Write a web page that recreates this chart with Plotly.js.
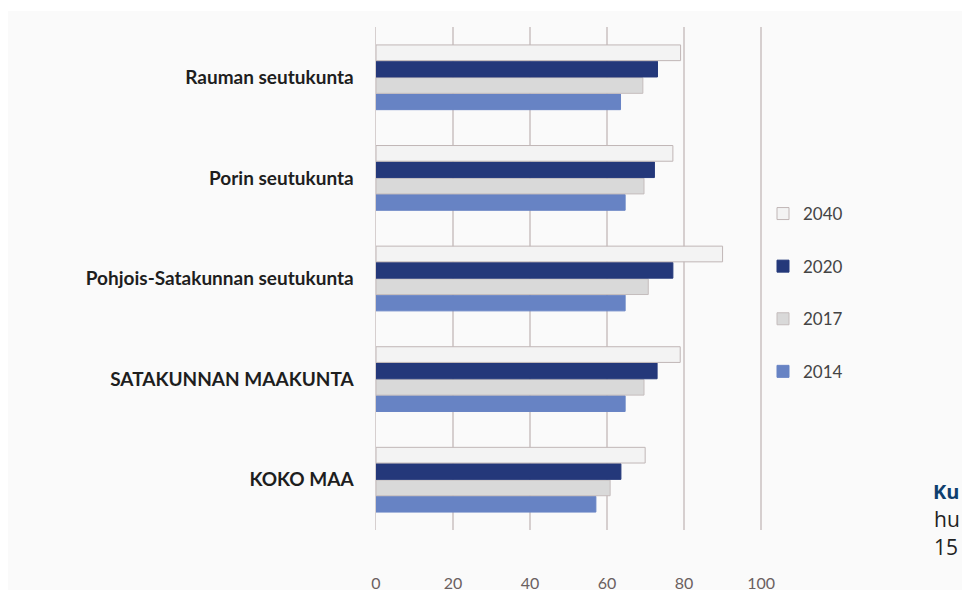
<!DOCTYPE html>
<html>
<head>
<meta charset="utf-8">
<script src="https://cdn.plot.ly/plotly-3.0.1.min.js"></script>
<style>html,body{margin:0;padding:0;background:#fff;}#chart{width:962px;height:592px;}</style>
</head>
<body>
<div id="chart"></div>
<script>
const categories = ["Rauman seutukunta", "Porin seutukunta", "Pohjois-Satakunnan seutukunta", "SATAKUNNAN MAAKUNTA", "KOKO MAA"];
const years = ["2014", "2017", "2020", "2040"];
const v2014 = [63.5, 64.7, 64.7, 64.7, 57.1];
const v2017 = [69.3, 69.6, 70.7, 69.6, 60.8];
const v2020 = [73.1, 72.3, 77.1, 73.0, 63.6];
const v2040 = [79.1, 77.1, 90.0, 79.0, 69.9];
const xTicks = [0, 20, 40, 60, 80, 100];

const W = 962, H = 592;
const L = 376, R = 199, T = 27, B = 62;
const pw = W - L - R, ph = H - T - B;
const px = x => (x - L) / pw;
const py = y => (H - B - y) / ph;

const styles = {
  "2014": {fill: "#6783c4", line: "#6783c4", rank: 4},
  "2017": {fill: "#d9d9d9", line: "#c4bcbc", rank: 3},
  "2020": {fill: "#24387a", line: "#24387a", rank: 2},
  "2040": {fill: "#f3f3f3", line: "#c0b6b6", rank: 1}
};
const series = {"2014": v2014, "2017": v2017, "2020": v2020, "2040": v2040};

const data = years.map(yr => ({
  type: "bar",
  orientation: "h",
  name: yr,
  legendgroup: yr,
  legendrank: styles[yr].rank,
  x: series[yr],
  y: categories,
  marker: {color: styles[yr].fill, line: {color: styles[yr].line, width: 1}},
  hoverinfo: "x+name"
}));

const layout = {
  width: W, height: H,
  margin: {l: L, r: R, t: T, b: B, pad: 0},
  paper_bgcolor: "#ffffff",
  plot_bgcolor: "rgba(0,0,0,0)",
  barmode: "group",
  bargap: 0.35,
  bargroupgap: 0.04,
  font: {family: "Lato, 'Open Sans', sans-serif", color: "#333"},
  xaxis: {
    range: [0, 100.5],
    tickvals: xTicks,
    ticktext: xTicks.map(String),
    showgrid: true,
    gridcolor: "#d6cfcf",
    gridwidth: 1.5,
    zeroline: false,
    showline: false,
    ticks: "outside",
    ticklen: 39,
    tickcolor: "rgba(0,0,0,0)",
    tickfont: {family: "Lato, sans-serif", size: 16, color: "#6a6060"},
    fixedrange: true
  },
  yaxis: {
    categoryorder: "array",
    categoryarray: categories.slice().reverse(),
    autorange: true,
    showgrid: false,
    zeroline: false,
    showline: true,
    linecolor: "#d6cfcf",
    linewidth: 1.5,
    ticks: "outside",
    ticklen: 17,
    tickcolor: "rgba(0,0,0,0)",
    tickfont: {family: "Lato, sans-serif", size: 19, color: "#1e1e1e", weight: "bold"},
    fixedrange: true
  },
  legend: {
    x: px(763), xanchor: "left",
    y: py(196), yanchor: "top",
    traceorder: "grouped",
    tracegroupgap: 27.5,
    font: {family: "Lato, sans-serif", size: 17, color: "#444"},
    bgcolor: "rgba(0,0,0,0)"
  },
  shapes: [
    {type: "rect", xref: "paper", yref: "paper", x0: px(8), x1: px(962), y0: py(590), y1: py(11),
     fillcolor: "#fafafa", line: {width: 0}, layer: "below"}
  ],
  annotations: [
    {xref: "paper", yref: "paper", x: px(931), y: py(491), xanchor: "left", yanchor: "middle", showarrow: false,
     text: "<b>Ku</b>", font: {family: "'Open Sans', 'Noto Sans', sans-serif", size: 20, color: "#0f3f6e"}},
    {xref: "paper", yref: "paper", x: px(932), y: py(519), xanchor: "left", yanchor: "middle", showarrow: false,
     text: "hu", font: {family: "'Open Sans', 'Noto Sans', sans-serif", size: 21, color: "#222"}},
    {xref: "paper", yref: "paper", x: px(932), y: py(547), xanchor: "left", yanchor: "middle", showarrow: false,
     text: "15", font: {family: "'Open Sans', 'Noto Sans', sans-serif", size: 21, color: "#222"}}
  ]
};

Plotly.newPlot("chart", data, layout, {displayModeBar: false, staticPlot: true});
</script>
</body>
</html>
